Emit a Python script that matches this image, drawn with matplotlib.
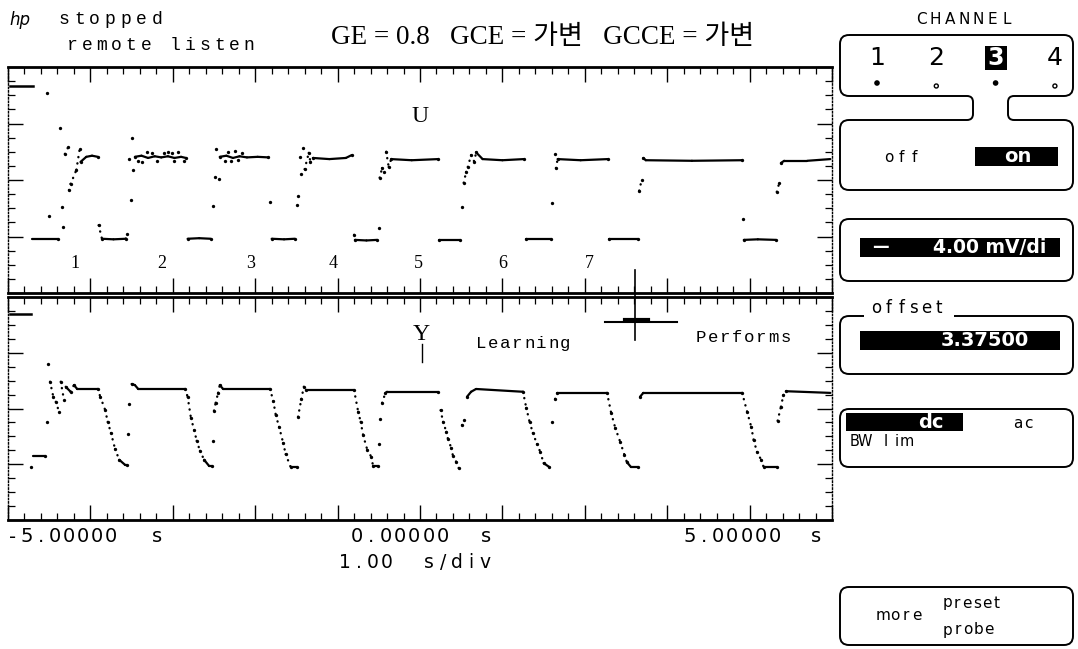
"""Scope screen capture: U (control) and Y (output) traces, HP 546xx style."""

import matplotlib
matplotlib.use("Agg")
import matplotlib.pyplot as plt
import numpy as np
from matplotlib.collections import LineCollection
from matplotlib.patches import FancyBboxPatch, PathPatch, Rectangle, Circle
from matplotlib.path import Path
from matplotlib.ticker import MultipleLocator

W, H = 1078, 649

# ── data (time in s, level in divisions) ────────────────────────────────────
U_T = [-4.71, -4.39, -4.34, -4.31, -4.27, -4.26, -4.24, -4.17, -4.13, -4.12, -4.05, -3.98, -3.91,
       -3.90, -3.86, -3.72, -3.57,
       -3.56, -3.53, -3.51, -3.50, -3.48, -3.46, -3.38, -3.30, -3.22, -3.14, -3.06, -2.98, -2.90, -2.84,
       -2.82, -2.68, -2.54,
       -2.51, -2.49, -2.47, -2.44, -2.43, -2.35, -2.27, -2.19, -2.10, -1.97, -1.84,
       -1.82, -1.80, -1.65, -1.52,
       -1.49, -1.48, -1.46, -1.44, -1.42, -1.40, -1.35, -1.33, -1.30, -1.10, -0.90, -0.83,
       -0.80, -0.79, -0.65, -0.52,
       -0.50, -0.49, -0.46, -0.44, -0.41, -0.38, -0.35, -0.10, 0.22,
       0.23, 0.49,
       0.51, 0.53, 0.56, 0.58, 0.62, 0.66, 0.68, 0.76, 1.00, 1.26,
       1.29, 1.59,
       1.60, 1.64, 1.65, 1.67, 1.95, 2.28,
       2.29, 2.65,
       2.66, 2.69, 2.71, 2.74, 3.30, 3.91,
       3.92, 3.93, 4.10, 4.32,
       4.33, 4.36, 4.38, 4.42, 4.70, 4.98]
U_V = [0.96, 0.96, 1.52, 2.46, 2.58, 1.82, 1.93, 2.18, 2.55, 2.32, 2.41, 2.43, 2.41,
       1.20, 0.96, 0.95, 0.96,
       1.04, 2.37, 1.65, 2.74, 2.18, 2.41, 2.43, 2.39, 2.42, 2.40, 2.42, 2.39, 2.41, 2.39,
       0.96, 0.97, 0.96,
       1.54, 2.05, 2.55, 2.02, 2.41, 2.43, 2.39, 2.42, 2.40, 2.41, 2.40,
       1.61, 0.96, 0.95, 0.96,
       1.56, 1.72, 2.41, 2.11, 2.57, 2.19, 2.48, 2.32, 2.39, 2.37, 2.39, 2.44,
       1.03, 0.94, 0.93, 0.94,
       1.15, 2.04, 2.21, 2.14, 2.50, 2.23, 2.37, 2.35, 2.37,
       0.94, 0.94,
       1.52, 1.95, 2.14, 2.23, 2.44, 2.32, 2.49, 2.37, 2.35, 2.37,
       0.96, 0.96,
       1.59, 2.46, 2.21, 2.37, 2.35, 2.37,
       0.96, 0.96,
       1.81, 2.00, 2.39, 2.35, 2.34, 2.35,
       1.31, 0.94, 0.95, 0.94,
       1.79, 1.95, 2.30, 2.34, 2.34, 2.37]
# isolated samples (start-up transient and noise around the early plateaus)
U_DOT_T = [-4.53, -4.37, -4.50, -4.33,
           -3.42, -3.37, -3.31, -3.25, -3.19, -3.11, -3.06, -3.01, -2.99, -2.94, -2.87,
           -2.37, -2.33, -2.29, -2.24, -2.21, -2.16]
U_DOT_V = [3.54, 2.92, 1.36, 1.17,
           2.33, 2.31, 2.49, 2.47, 2.33, 2.47, 2.49, 2.48, 2.33, 2.49, 2.34,
           2.33, 2.49, 2.33, 2.51, 2.35, 2.48]

Y_T = [-4.70, -4.55, -4.53, -4.51, -4.49, -4.45, -4.42, -4.38, -4.36, -4.32, -4.30, -4.24, -4.20, -4.16,
       -3.91, -3.88, -3.82, -3.79, -3.75, -3.70, -3.65, -3.58, -3.56,
       -3.54, -3.53, -3.50, -3.46, -3.42,
       -2.85, -2.82, -2.78, -2.74, -2.71, -2.67, -2.62, -2.56, -2.52,
       -2.51, -2.50, -2.48, -2.45, -2.43, -2.39,
       -1.82, -1.78, -1.75, -1.71, -1.66, -1.63, -1.57, -1.49,
       -1.48, -1.44, -1.41, -1.38,
       -0.80, -0.75, -0.72, -0.69, -0.64, -0.59, -0.57, -0.51,
       -0.50, -0.49, -0.46, -0.42, -0.40,
       0.22, 0.25, 0.28, 0.32, 0.34, 0.38, 0.40, 0.44, 0.47,
       0.51, 0.53, 0.57, 0.62, 0.68,
       1.25, 1.29, 1.33, 1.37, 1.42, 1.46, 1.50, 1.57,
       1.60, 1.64, 1.66,
       2.27, 2.32, 2.37, 2.43, 2.48, 2.51, 2.56, 2.65,
       2.67, 2.71,
       3.91, 3.97, 4.02, 4.05, 4.09, 4.14, 4.17, 4.33,
       4.34, 4.38, 4.41, 4.44, 4.98]
Y_V = [1.15, 1.15, 1.76, 2.80, 2.48, 2.21, 2.12, 1.94, 2.48, 2.15, 2.39, 2.30, 2.42, 2.35,
       2.35, 2.21, 1.97, 1.76, 1.56, 1.27, 1.08, 0.99, 0.99,
       1.54, 2.08, 2.44, 2.42, 2.35,
       2.35, 2.21, 1.83, 1.61, 1.42, 1.24, 1.08, 0.97, 0.97,
       1.42, 1.96, 2.10, 2.28, 2.42, 2.35,
       2.35, 2.13, 1.88, 1.67, 1.38, 1.18, 0.95, 0.95,
       1.85, 2.17, 2.39, 2.33,
       2.33, 1.94, 1.76, 1.52, 1.26, 1.13, 0.97, 0.97,
       1.36, 1.81, 2.10, 2.28, 2.30,
       2.30, 1.97, 1.76, 1.58, 1.45, 1.29, 1.15, 1.04, 0.93,
       1.70, 1.79, 2.21, 2.30, 2.35,
       2.30, 2.01, 1.76, 1.56, 1.36, 1.22, 1.02, 0.95,
       1.76, 2.17, 2.28,
       2.28, 1.92, 1.65, 1.40, 1.17, 1.04, 0.95, 0.95,
       2.21, 2.28,
       2.28, 1.94, 1.67, 1.43, 1.22, 1.08, 0.95, 0.95,
       1.78, 2.03, 2.24, 2.31, 2.28]
Y_DOT_T = [-4.72]
Y_DOT_V = [0.95]

TRIAL_LABELS = ["1", "2", "3", "4", "5", "6", "7"]
TRIAL_T = [-4.19, -3.13, -2.06, -1.06, -0.02, 1.01, 2.06]
TRIAL_V = 0.53

CH_MARK_U = 3.66          # channel reference marks on the left edge
CH_MARK_Y = 3.70
CURSOR_T = 2.61           # cross cursor in the lower panel
CURSOR_V = 3.55

TIME_LABELS = ["-5.00000", "0.00000", "5.00000"]
TITLE = "GE = 0.8   GCE = 가변   GCCE = 가변"
CHANNELS = ["1", "2", "3", "4"]
CH_ON = [True, False, True, False]
CH_SELECTED = 2

SERIF = ["Liberation Serif", "Noto Sans CJK KR"]
MONO = "Liberation Mono"
SANS = "DejaVu Sans"


def draw_trace(ax, t, v):
    t = np.asarray(t, float)
    v = np.asarray(v, float)
    pts = np.column_stack([t, v])
    segs = np.stack([pts[:-1], pts[1:]], axis=1)
    slope = np.abs(np.diff(v) / np.diff(t))
    solid = slope < 2.0
    dotted = (slope >= 2.0) & (slope < 9.5)
    ax.add_collection(LineCollection(segs[solid], colors="k", linewidths=1.6,
                                     capstyle="round", zorder=3))
    ax.add_collection(LineCollection(segs[dotted], colors="k", linewidths=1.7,
                                     linestyles=[(0, (0.1, 2.6))], capstyle="round", zorder=3))
    mark = np.zeros(len(t), bool)
    mark[:-1] |= ~solid
    mark[1:] |= ~solid
    ax.plot(t[mark], v[mark], "o", ms=2.4, color="k", mec="none", zorder=3)


def setup_panel(ax):
    ax.set_xlim(-5, 5)
    ax.set_ylim(0, 4)
    ax.xaxis.set_major_locator(MultipleLocator(1))
    ax.xaxis.set_minor_locator(MultipleLocator(0.2))
    ax.yaxis.set_major_locator(MultipleLocator(1))
    ax.yaxis.set_minor_locator(MultipleLocator(0.25))
    ax.tick_params(which="both", direction="in", top=True, bottom=True, left=True, right=True,
                   labelbottom=False, labelleft=False, color="k")
    ax.tick_params(which="major", length=11, width=1.0)
    ax.tick_params(which="minor", length=5, width=0.9)
    for s in ("left", "right"):
        ax.spines[s].set_linestyle((0, (1, 1.5)))
        ax.spines[s].set_linewidth(1.0)
    for s in ("top", "bottom"):
        ax.spines[s].set_linewidth(2.0)
    ax.patch.set_alpha(0)


def spaced(ax, x, y, s, pitch, **kw):
    """Fixed-pitch text like the scope's character generator."""
    for i, ch in enumerate(s):
        if ch != " ":
            ax.text(x + (i + 0.5) * pitch, y, ch, ha="center", va="center", **kw)


fig = plt.figure(figsize=(W / 100, H / 100), dpi=100)
fig.patch.set_facecolor("white")

ax_u = fig.add_axes([8 / W, 1 - 293 / H, 824 / W, 226 / H])
ax_y = fig.add_axes([8 / W, 1 - 520 / H, 824 / W, 223 / H])
for ax in (ax_u, ax_y):
    setup_panel(ax)

draw_trace(ax_u, U_T, U_V)
ax_u.plot(U_DOT_T, U_DOT_V, "o", ms=2.4, color="k", mec="none")
draw_trace(ax_y, Y_T, Y_V)
ax_y.plot(Y_DOT_T, Y_DOT_V, "o", ms=2.4, color="k", mec="none")

ax_u.plot([-4.97, -4.70], [CH_MARK_U, CH_MARK_U], color="k", lw=1.8)
ax_y.plot([-4.97, -4.72], [CH_MARK_Y, CH_MARK_Y], color="k", lw=1.8)

ax_u.text(0, 3.12, "U", family=SERIF, fontsize=17, ha="center", va="center")
for lab, t in zip(TRIAL_LABELS, TRIAL_T):
    ax_u.text(t, TRIAL_V, lab, family=SERIF, fontsize=13, ha="center", va="center")

ax_y.text(0.02, 3.33, "Y", family=SERIF, fontsize=17, ha="center", va="center")
ax_y.plot([0.02, 0.02], [3.15, 2.83], color="k", lw=1.0)
spaced(ax_y, 0.67, 3.17, "Learning", 0.146, family=MONO, fontsize=12.5)
spaced(ax_y, 3.34, 3.28, "Performs", 0.146, family=MONO, fontsize=12.5)

# cross cursor
ax_y.plot([CURSOR_T, CURSOR_T], [3.23, 4.48], color="k", lw=1.2, clip_on=False)
ax_y.plot([CURSOR_T - 0.36, CURSOR_T + 0.51], [CURSOR_V, CURSOR_V], color="k", lw=1.5)
ax_y.plot([CURSOR_T - 0.12, CURSOR_T + 0.16], [CURSOR_V + 0.03, CURSOR_V + 0.03], color="k", lw=3)

# ── overlay in pixel coordinates for the screen annotations ─────────────────
ov = fig.add_axes([0, 0, 1, 1])
ov.set_xlim(0, W)
ov.set_ylim(H, 0)
ov.axis("off")

ov.text(20, 20, "hp", family=SANS, style="italic", fontsize=12, ha="center", va="center")
spaced(ov, 56, 20, "stopped", 15.5, family=MONO, fontsize=13)
spaced(ov, 65, 46, "remote listen", 14.7, family=MONO, fontsize=13)
ov.text(543, 37, TITLE, family=SERIF, fontsize=19.5, ha="center", va="center")

# time axis annotation
spaced(ov, 6, 537, TIME_LABELS[0], 14, family=SANS, fontsize=14)
ov.text(157, 537, "s", family=SANS, fontsize=14, ha="center", va="center")
spaced(ov, 350, 537, TIME_LABELS[1], 14.3, family=SANS, fontsize=14)
ov.text(486, 537, "s", family=SANS, fontsize=14, ha="center", va="center")
spaced(ov, 683, 537, TIME_LABELS[2], 14.1, family=SANS, fontsize=14)
ov.text(816, 537, "s", family=SANS, fontsize=14, ha="center", va="center")
spaced(ov, 338, 563, "1.00  s/div", 14, family=SANS, fontsize=13.5)

# ── softkey panel ───────────────────────────────────────────────────────────
BOX_LW = 1.4
X0, X1, R = 840, 1073, 9


def rbox(y0, y1):
    ov.add_patch(FancyBboxPatch((X0 + R, y0 + R), X1 - X0 - 2 * R, y1 - y0 - 2 * R,
                                boxstyle=f"round,pad={R}", fill=False, ec="k", lw=BOX_LW,
                                zorder=1))


def inverse(x0, y0, x1, y1):
    ov.add_patch(Rectangle((x0, y0), x1 - x0, y1 - y0, fc="k", ec="none", zorder=2))


spaced(ov, 914, 19, "CHANNEL", 14.3, family=SANS, fontsize=11)

# channel box joined to the on/off box by a neck
cy0, cy1, by0, by1, nl, nr, rn = 35, 96, 120, 190, 973, 1008, 6
verts = [
    (X0 + R, cy0), (X1 - R, cy0), (X1, cy0), (X1, cy0 + R), (X1, cy1 - R), (X1, cy1), (X1 - R, cy1),
    (nr + rn, cy1), (nr, cy1), (nr, cy1 + rn), (nr, by0 - rn), (nr, by0), (nr + rn, by0),
    (X1 - R, by0), (X1, by0), (X1, by0 + R), (X1, by1 - R), (X1, by1), (X1 - R, by1),
    (X0 + R, by1), (X0, by1), (X0, by1 - R), (X0, by0 + R), (X0, by0), (X0 + R, by0),
    (nl - rn, by0), (nl, by0), (nl, by0 - rn), (nl, cy1 + rn), (nl, cy1), (nl - rn, cy1),
    (X0 + R, cy1), (X0, cy1), (X0, cy1 - R), (X0, cy0 + R), (X0, cy0), (X0 + R, cy0),
]
codes = [Path.MOVETO, Path.LINETO, Path.CURVE3, Path.CURVE3, Path.LINETO, Path.CURVE3, Path.CURVE3]
codes += [Path.LINETO, Path.CURVE3, Path.CURVE3, Path.LINETO, Path.CURVE3, Path.CURVE3] * 5
ov.add_patch(PathPatch(Path(verts, codes), fill=False, ec="k", lw=BOX_LW))

for i, (lab, on) in enumerate(zip(CHANNELS, CH_ON)):
    cx = 877 + i * 59.3
    if i == CH_SELECTED:
        inverse(cx - 11, 46, cx + 11, 70)
        ov.text(cx, 58, lab, family=SANS, fontsize=17, color="white", fontweight="bold",
                ha="center", va="center", zorder=3)
    else:
        ov.text(cx, 58, lab, family=SANS, fontsize=18, ha="center", va="center")
    if on:
        ov.add_patch(Circle((cx, 83), 2.8, fc="k", ec="none"))
    else:
        ov.add_patch(Circle((cx, 86), 2.0, fc="white", ec="k", lw=1.0))

spaced(ov, 883, 157, "off", 12.5, family=SANS, fontsize=11)
inverse(975, 147, 1058, 166)
ov.text(1018, 156.5, "on", family=SANS, fontsize=14, fontweight="bold", color="white",
        ha="center", va="center", zorder=3)

rbox(219, 281)
inverse(860, 238, 1060, 257)
ov.text(880, 247, "—", family=SANS, fontsize=12, fontweight="bold", color="white",
        ha="center", va="center", zorder=3)
ov.text(990, 247.5, "4.00 mV/di", family=SANS, fontsize=13.5, fontweight="bold",
        color="white", ha="center", va="center", zorder=3)

rbox(316, 374)
ov.add_patch(Rectangle((864, 306), 90, 14, fc="white", ec="none", zorder=2))
spaced(ov, 870, 308, "offset", 12.5, family=SANS, fontsize=12, zorder=3)
inverse(860, 331, 1060, 350)
ov.text(985, 340.5, "3.37500", family=SANS, fontsize=14, fontweight="bold", color="white",
        ha="center", va="center", zorder=3)

rbox(409, 467)
inverse(846, 413, 963, 431)
ov.text(931, 422, "dc", family=SANS, fontsize=14, fontweight="bold", color="white",
        ha="center", va="center", zorder=3)
spaced(ov, 1012, 424, "ac", 11, family=SANS, fontsize=11)
spaced(ov, 849, 441, "BW lim", 10.5, family=SANS, fontsize=10.5)

rbox(587, 645)
spaced(ov, 878, 616, "more", 11, family=SANS, fontsize=11)
spaced(ov, 942, 603, "preset", 10, family=SANS, fontsize=11)
spaced(ov, 942, 630, "probe", 10.5, family=SANS, fontsize=11)

fig.savefig("out.png", dpi=100, facecolor="white")
